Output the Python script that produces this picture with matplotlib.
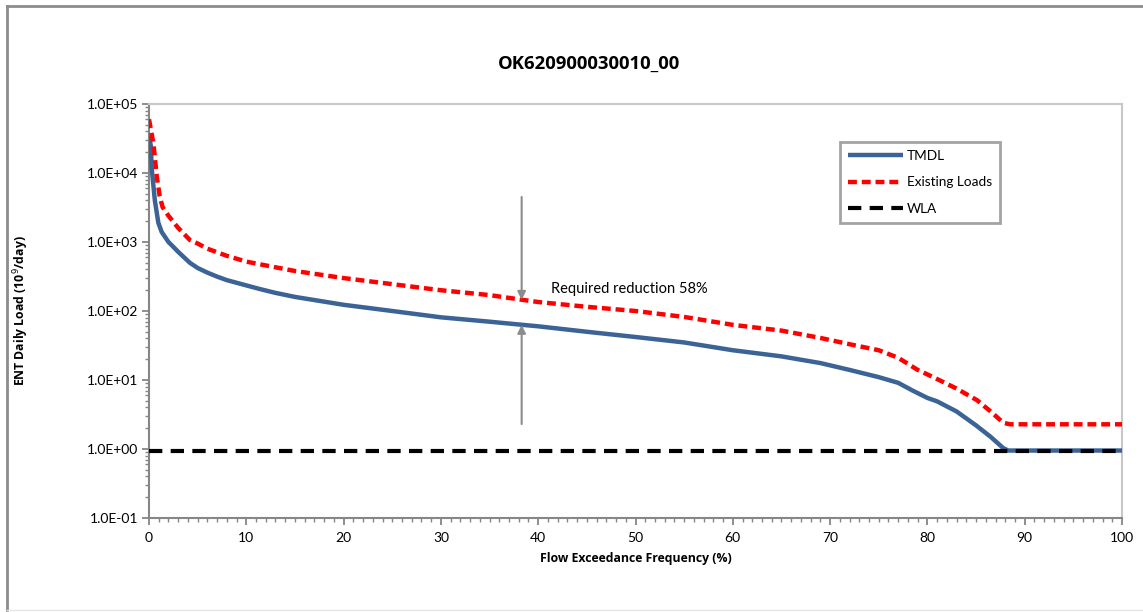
import matplotlib
matplotlib.use("Agg")
import matplotlib.pyplot as plt
from matplotlib.ticker import LogLocator, FixedLocator, MultipleLocator, FuncFormatter
from matplotlib.lines import Line2D
import numpy as np

plt.rcParams['font.family'] = ['Lato', 'DejaVu Sans']
BOLD_FAMILY = ['Open Sans', 'DejaVu Sans']

# Data
tmdl_x = [0, 0.2, 0.27, 0.6, 0.96, 1.3, 2.0, 2.5, 3.0, 4.2, 5, 6, 7, 8, 10, 11.4, 13, 15, 20, 25, 30, 35,
          38.4, 40, 45, 50, 55, 60, 65, 69, 72, 75, 77, 78.5, 80, 81, 83, 85, 86.5, 87.8, 88.3, 100]
tmdl_y = [3.5e4, 2.4e4, 1.2e4, 4.0e3, 1.9e3, 1.4e3, 1.0e3, 850, 720, 500, 420, 360, 315, 280, 235, 208, 183,
          160, 123, 100, 81, 70, 63, 60, 50, 42, 35, 27, 22, 17.6, 14, 11, 9.1, 7.0, 5.5, 4.9, 3.5, 2.2, 1.5,
          1.03, 0.95, 0.95]

exist_x = [0, 0.45, 0.8, 1.1, 1.4, 2.0, 3.0, 4.2, 5, 6, 8, 10, 11.4, 13, 15, 20, 25, 30, 35, 38.4, 40, 45,
           50, 55, 60, 65, 69, 72, 75, 77, 79, 80.6, 83, 85.1, 86.5, 87.8, 88.5, 100]
exist_y = [6.0e4, 2.7e4, 8.9e3, 4.6e3, 3.2e3, 2.4e3, 1.6e3, 1.07e3, 950, 800, 630, 520, 475, 430, 380, 300,
           245, 200, 170, 145, 135, 115, 100, 82, 63, 52, 40.7, 33, 27, 21, 14, 11, 7.5, 5.1, 3.5, 2.4,
           2.28, 2.28]

wla_x = [0, 100]
wla_y = [0.95, 0.95]

x_ticks = [0, 10, 20, 30, 40, 50, 60, 70, 80, 90, 100]
y_ticks = [1e-1, 1e0, 1e1, 1e2, 1e3, 1e4, 1e5]
y_labels = ["1.0E-01", "1.0E+00", "1.0E+01", "1.0E+02", "1.0E+03", "1.0E+04", "1.0E+05"]

arrow_x = 38.3
arrow_top = 4.5e3
arrow_bottom = 2.3
annot_text = "Required reduction 58%"

W, H = 1143, 612
fig = plt.figure(figsize=(W / 100, H / 100), dpi=100)
fig.patch.set_facecolor('white')

# Outer chart border
fig.add_artist(Line2D([7 / W, 7 / W], [1 - 6 / H, 2 / H], color='#8C8C8C', lw=2.0))
fig.add_artist(Line2D([7 / W, 1.0], [1 - 6 / H, 1 - 6 / H], color='#8C8C8C', lw=2.0))
fig.add_artist(Line2D([7 / W, 1.0], [2 / H, 2 / H], color='#E6E6E6', lw=1.0))

ax = fig.add_axes([149 / W, 1 - 518 / H, (1122 - 149) / W, (518 - 104) / H])
ax.set_yscale('log')
ax.set_xlim(0, 100)
ax.set_ylim(1e-1, 1e5)

ax.plot(tmdl_x, tmdl_y, color='#3B6396', lw=3.2, solid_capstyle='butt', label='TMDL', zorder=3)
ax.plot(exist_x, exist_y, color='#FF0000', lw=3.2, linestyle=(0, (2.0, 1.1)), label='Existing Loads', zorder=4)
ax.plot(wla_x, wla_y, color='black', lw=3.0, linestyle=(0, (3.2, 2.0)), label='WLA', zorder=5)

# Arrows
ax.annotate('', xy=(arrow_x, 145), xytext=(arrow_x, arrow_top),
            arrowprops=dict(arrowstyle='-|>', color='#8C8C8C', lw=1.5, mutation_scale=12,
                            shrinkA=0, shrinkB=0), zorder=6)
ax.annotate('', xy=(arrow_x, 63), xytext=(arrow_x, arrow_bottom),
            arrowprops=dict(arrowstyle='-|>', color='#8C8C8C', lw=1.5, mutation_scale=12,
                            shrinkA=0, shrinkB=0), zorder=6)
ax.text(41.3, 205, annot_text, fontsize=10.5, color='black', ha='left', va='center')

# Spines
ax.spines['left'].set_color('#868686')
ax.spines['bottom'].set_color('#868686')
ax.spines['left'].set_linewidth(1.5)
ax.spines['bottom'].set_linewidth(1.5)
ax.spines['top'].set_color('#C8C8C8')
ax.spines['right'].set_color('#C8C8C8')
ax.spines['top'].set_linewidth(1.5)
ax.spines['right'].set_linewidth(1.5)

ax.xaxis.set_major_locator(FixedLocator(x_ticks))
ax.xaxis.set_minor_locator(MultipleLocator(1))
ax.set_xticklabels([str(t) for t in x_ticks])
ax.yaxis.set_major_locator(FixedLocator(y_ticks))
ax.set_yticklabels(y_labels)
ax.yaxis.set_minor_locator(LogLocator(base=10, subs=np.arange(2, 10), numticks=20))
ax.yaxis.set_minor_formatter(FuncFormatter(lambda v, p: ''))

ax.tick_params(axis='both', which='major', direction='out', length=5, width=1.3, color='#868686',
               labelsize=10, pad=3)
ax.tick_params(axis='both', which='minor', direction='out', length=3, width=1.0, color='#868686')
ax.tick_params(axis='x', which='major', pad=5)

ax.set_xlabel('Flow Exceedance Frequency (%)', fontsize=8.8, fontweight='bold', family=BOLD_FAMILY,
              labelpad=6)
ax.set_ylabel('ENT Daily Load (10$^{9}$/day)', fontsize=8.8, fontweight='bold', family=BOLD_FAMILY,
              labelpad=0)
ax.yaxis.set_label_coords(-118 / (1122 - 149), 0.5)

fig.text(589 / W, 1 - 64 / H, 'OK620900030010_00', fontsize=13.3, fontweight='bold', family=BOLD_FAMILY,
         ha='center', va='center')

leg = ax.legend(loc='upper left', bbox_to_anchor=((840 - 149) / (1122 - 149), 1 - (142 - 104) / (518 - 104)),
                frameon=True, fancybox=False, fontsize=9.8, handlelength=4.0, borderpad=0.6,
                labelspacing=1.05, handletextpad=0.3, borderaxespad=0)
leg.get_frame().set_edgecolor('#8C8C8C')
leg.get_frame().set_linewidth(2.0)

fig.savefig('out.png', dpi=100, facecolor='white')
